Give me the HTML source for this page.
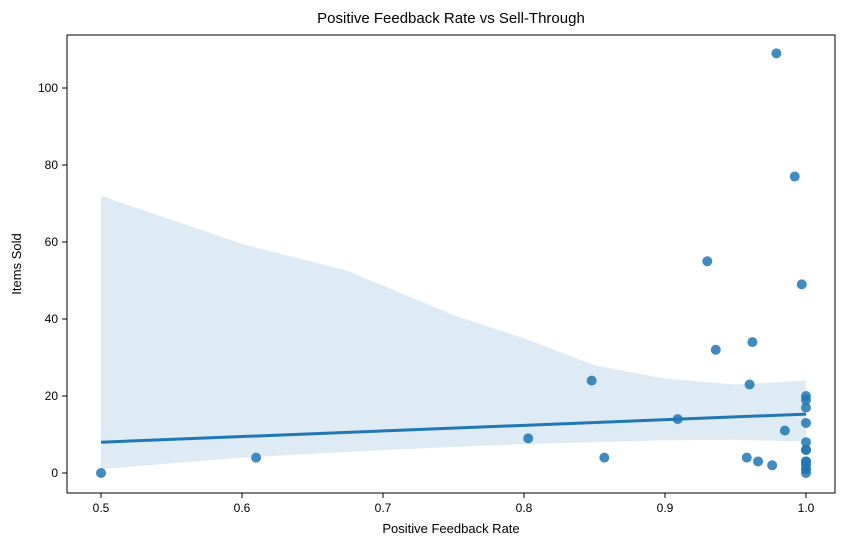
<!DOCTYPE html>
<html><head><meta charset="utf-8"><style>
body{margin:0;background:#fff;font-family:"Liberation Sans",sans-serif}
svg text{font-family:"Liberation Sans",sans-serif;fill:#000}
</style></head><body>
<svg width="850" height="547" viewBox="0 0 850 547">
<rect width="850" height="547" fill="#fff"/>
<text x="451" y="23" font-size="15" text-anchor="middle">Positive Feedback Rate vs Sell-Through</text>
<g id="band"></g><g id="pts"></g><g id="line"></g>
<rect x="67" y="35" width="768" height="458" fill="none" stroke="#000" stroke-width="1"/>
<g id="xt"></g><g id="yt"></g>
<text x="451" y="533" font-size="13" text-anchor="middle">Positive Feedback Rate</text>
<text transform="translate(21,264) rotate(-90)" font-size="13" text-anchor="middle">Items Sold</text>
</svg>
<script>
const xs=[0.5,0.61,0.803,0.848,0.857,0.909,0.93,0.936,0.958,0.96,0.962,0.966,0.976,0.979,0.985,0.992,0.997,1,1,1,1,1,1,1,1,1,1,1,1,1];
const ys=[0,4,9,24,4,14,55,32,4,23,34,3,2,109,11,77,49,20,19,17,13,8,6,6,3,2,1,0,3,1];
const bandX=[0.5,0.6,0.675,0.75,0.8,0.85,0.9,0.95,1.0];
const bandUpper=[72,59.5,52.5,41,35,28,24.5,23,24];
const bandLower=[1,4,5.5,6.8,7.5,8,8.5,8.6,8.2];
const lineX=[0.5,1.0];
const lineY=[8,15.3];
const xTicks=[0.5,0.6,0.7,0.8,0.9,1.0];
const yTicks=[0,20,40,60,80,100];
const X=v=>101+(v-0.5)*1410, Y=v=>473-v*3.85;
const NS="http://www.w3.org/2000/svg";
function mk(t,a,p){const e=document.createElementNS(NS,t);for(const k in a)e.setAttribute(k,a[k]);p.appendChild(e);return e;}
let d=bandX.map((x,i)=>(i?'L':'M')+X(x)+','+Y(bandUpper[i])).join('');
for(let i=bandX.length-1;i>=0;i--)d+='L'+X(bandX[i])+','+Y(bandLower[i]);
const b=mk('path',{d:d+'Z',fill:'#1f77b4','fill-opacity':0.15},document.getElementById('band'));


xs.forEach((x,i)=>{const c=mk('circle',{cx:X(x),cy:Y(ys[i]),r:5,fill:'#1f77b4','fill-opacity':0.85},document.getElementById('pts'));

});
const l=mk('line',{x1:X(lineX[0]),y1:Y(lineY[0]),x2:X(lineX[1]),y2:Y(lineY[1]),stroke:'#1f77b4','stroke-width':3},document.getElementById('line'));


xTicks.forEach(v=>{const g=document.getElementById('xt');mk('line',{x1:X(v),x2:X(v),y1:493,y2:498,stroke:'#000'},g);
const t=mk('text',{x:X(v),y:512,'font-size':12,'text-anchor':'middle'},g);t.textContent=v.toFixed(1);

});
yTicks.forEach(v=>{const g=document.getElementById('yt');mk('line',{x1:62,x2:67,y1:Y(v),y2:Y(v),stroke:'#000'},g);
const t=mk('text',{x:58,y:Y(v)+4,'font-size':12,'text-anchor':'end'},g);t.textContent=v;

});
</script>
</body></html>
